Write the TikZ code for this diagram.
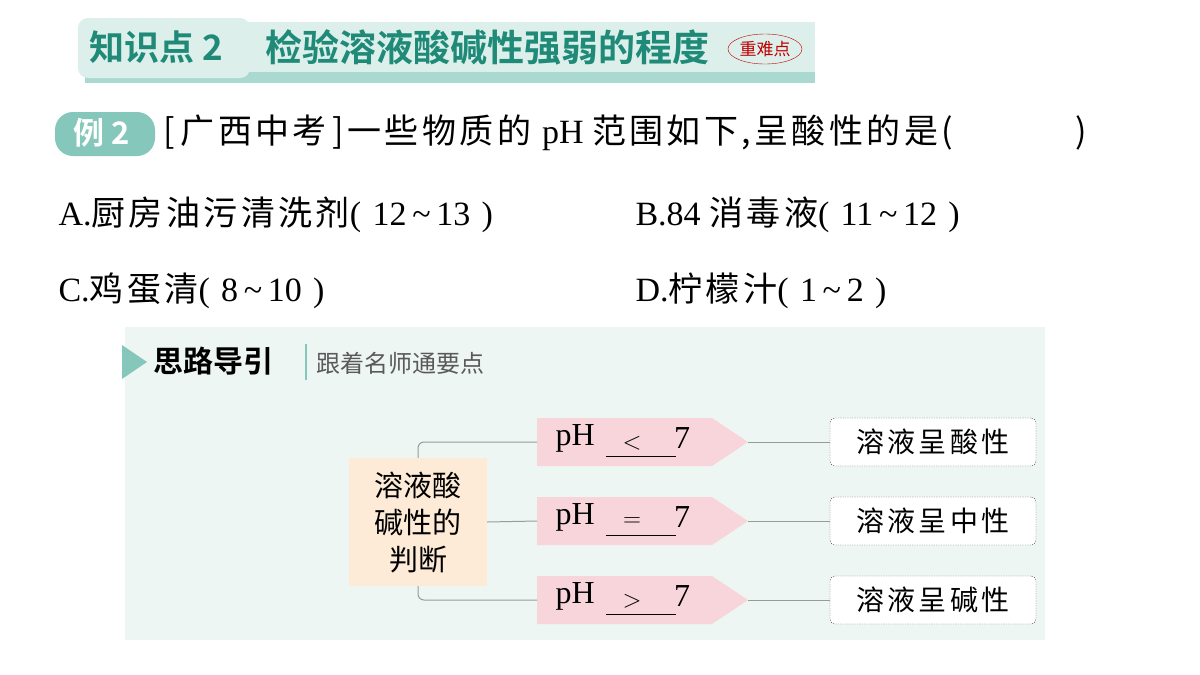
\documentclass[tikz,border=0pt]{standalone}
\usepackage{fontspec}
\setmainfont{Liberation Serif}
\newfontfamily\cjk{Noto Sans CJK SC}
\newfontfamily\cjkq[LetterSpace=10]{Noto Sans CJK SC}
\newfontfamily\cjks[LetterSpace=12]{Noto Sans CJK SC}
\newfontfamily\cjkb{Noto Sans CJK SC Bold}
\usetikzlibrary{shapes.geometric}
\definecolor{teal1}{HTML}{1F8A78}
\definecolor{band}{HTML}{DCEFEB}
\definecolor{stripe}{HTML}{A9D9D1}
\definecolor{badge}{HTML}{86C7BC}
\definecolor{guide}{HTML}{EEF6F4}
\definecolor{pinkf}{HTML}{F8D5DB}
\definecolor{peach}{HTML}{FDEBD7}
\definecolor{linec}{HTML}{9A9A9A}
\tikzset{
  q/.style={anchor=west,font=\fontsize{34}{36}\selectfont},
  res/.style={draw=black!70,dashed,dash pattern=on 1.2pt off 1.2pt,rounded corners=5pt,minimum width=206pt,minimum height=48pt,font=\cjks\fontsize{28}{30}\selectfont,fill=white,inner sep=0pt},
  conn/.style={draw=linec,line width=1pt}
}
\begin{document}
\begin{tikzpicture}[x=1pt,y=-1pt]
\useasboundingbox (0,0) rectangle (1200,675);
\fill[white] (0,0) rectangle (1200,675);
% header
\fill[stripe] (85,70) rectangle (815,83);
\fill[band,rounded corners=10pt] (78,18) rectangle (250,78);
\fill[band] (240,22) rectangle (815,72);
\node[anchor=west,text=teal1,font=\cjkb\fontsize{35}{38}\selectfont] (kp) at (86,47) {知识点 2};
\node[anchor=west,text=teal1,font=\cjkb\fontsize{37}{40}\selectfont] (title) at (262,47) {检验溶液酸碱性强弱的程度};
\node[ellipse,draw=red!75!black,text=red!75!black,inner sep=0pt,minimum width=74pt,minimum height=30pt,font=\cjk\fontsize{17}{18}\selectfont] (stamp) at (765,49) {重难点};
% example
\fill[badge,rounded corners=18pt] (55,112) rectangle (155,156);
\node[text=white,font=\cjkb\fontsize{31}{33}\selectfont] (ex) at (102,133) {例 2};
\node[q] (qt) at (160,133) {\cjkq[\,广西中考\,]一些物质的 \rmfamily pH \cjkq 范围如下,呈酸性的是(\hspace{122pt})};
\node[q] (oa) at (55,215) {A.\cjkq 厨房油污清洗剂\rmfamily(\,\,12\,\textasciitilde\,13\,\,)};
\node[q] (ob) at (632,215) {B.84 \cjkq 消毒液\rmfamily(\,\,11\,\textasciitilde\,12\,\,)};
\node[q] (oc) at (55,291) {C.\cjkq 鸡蛋清\rmfamily(\,\,8\,\textasciitilde\,10\,\,)};
\node[q] (od) at (632,291) {D.\cjkq 柠檬汁\rmfamily(\,\,1\,\textasciitilde\,2\,\,)};
% guide
\fill[guide] (125,327) rectangle (1045,640);
\fill[badge] (122,345) -- (147,362) -- (122,379) -- cycle;
\node[anchor=west,font=\cjkb\fontsize{30}{32}\selectfont] (gt) at (150,361) {思路导引};
\draw[badge,line width=1.5pt] (306,344) -- (306,380);
\node[anchor=west,text=black!65,font=\cjk\fontsize{24}{26}\selectfont] (gs) at (313,363) {跟着名师通要点};
% center
\node[fill=peach,minimum width=138pt,minimum height=128pt,align=center,font=\cjk\fontsize{29}{37}\selectfont] (c) at (418,522) {溶液酸\\碱性的\\判断};
% pink arrows
\foreach \n/\y/\s in {a/442/<,b/521/=,c/600/>}{
  \fill[pinkf] (537,\y-24) -- (712,\y-24) -- (748,\y) -- (712,\y+24) -- (537,\y+24) -- cycle;
  \coordinate (p\n) at (537,\y);
  \coordinate (t\n) at (748,\y);
  \node[anchor=west,font=\fontsize{32}{34}\selectfont] (ph\n) at (552,\y-4) {pH};
  \draw[line width=1pt] (606,\y+14) -- (676,\y+14);
  \node[font=\fontsize{30}{32}\selectfont] (s\n) at (632,\y+1) {$\s$};
  \node[font=\fontsize{32}{34}\selectfont] (v\n) at (682,\y-4) {7};
}
\node[res] (ra) at (933,442) {溶液呈酸性};
\node[res] (rb) at (933,521) {溶液呈中性};
\node[res] (rc) at (933,600) {溶液呈碱性};
\draw[conn,rounded corners=6pt] (c.north) -- (418,442) -- (pa);
\draw[conn,rounded corners=6pt] (c.south) -- (418,600) -- (pc);
\draw[conn] (c.east) -- (pb);
\draw[conn] (ta) -- (ra.west);
\draw[conn] (tb) -- (rb.west);
\draw[conn] (tc) -- (rc.west);
\end{tikzpicture}
\end{document}
